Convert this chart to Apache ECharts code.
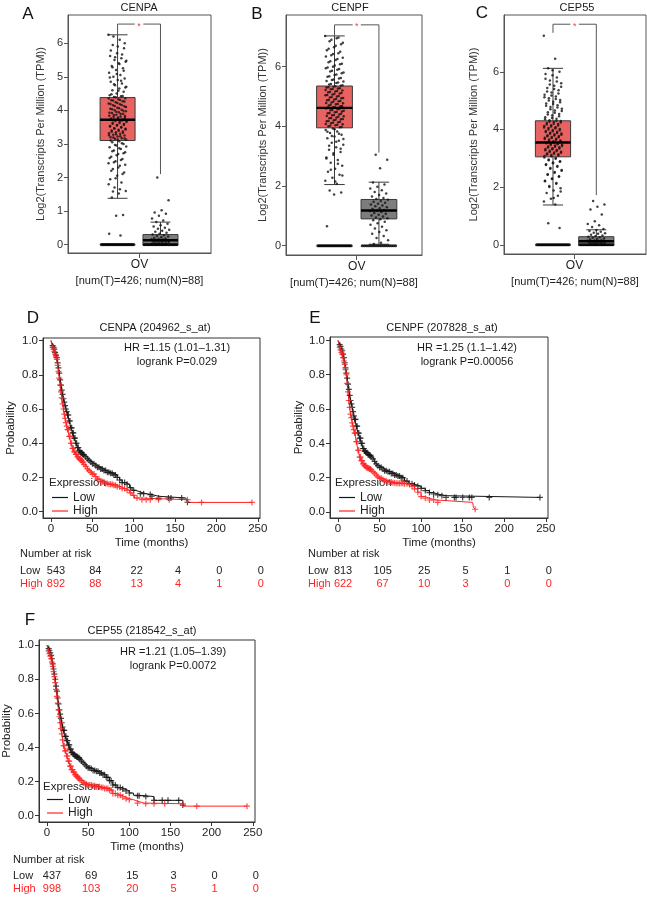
<!DOCTYPE html>
<html><head><meta charset="utf-8">
<script src="https://cdn.jsdelivr.net/npm/echarts@6/dist/echarts.min.js"></script>
<style>html,body{margin:0;padding:0;background:#fff}#c{width:647px;height:898px}</style>
</head><body><div id="c"></div>
<script>
const FONT = 'Liberation Sans, Arial, Helvetica, sans-serif';

// ---------------- Box plots (A–C) ----------------
const boxGenes = ['CENPA', 'CENPF', 'CEP55'];
const boxCategory = 'OV';
const boxSampleLabel = '[num(T)=426; num(N)=88]';
const boxYTitle = 'Log2(Transcripts Per Million (TPM))';
// stats: [lower whisker, Q1, median, Q3, upper whisker]
const statsA_T = [1.38, 3.10, 3.72, 4.38, 6.25];
const statsA_N = [0.00, -0.02, 0.13, 0.30, 0.67];
const statsB_T = [2.05, 3.95, 4.62, 5.35, 7.03];
const statsB_N = [0.05, 0.90, 1.18, 1.55, 2.13];
const statsC_T = [1.38, 3.05, 3.55, 4.30, 6.12];
const statsC_N = [0.00, -0.02, 0.12, 0.28, 0.52];
const ptsA_T = [6.25,6.1,5.95,5.85,5.7,5.62,5.55,5.5,5.45,5.4,5.32,5.25,5.2,5.12,5.05,5.0,4.95,4.9,4.85,4.8,4.75,4.7,4.65,4.6,4.55,4.5,4.45,4.42,4.4,4.36,4.33,4.3,4.27,4.24,4.2,4.18,4.15,4.12,4.08,4.05,4.02,4.0,3.97,3.94,3.92,3.9,3.87,3.84,3.82,3.8,3.77,3.75,3.72,3.7,3.68,3.65,3.62,3.6,3.57,3.55,3.52,3.5,3.47,3.45,3.42,3.4,3.37,3.35,3.32,3.3,3.27,3.25,3.22,3.2,3.17,3.15,3.12,3.08,3.05,3.0,2.95,2.9,2.85,2.8,2.75,2.7,2.62,2.55,2.48,2.42,2.35,2.25,2.15,2.05,1.95,1.85,1.7,1.6,1.52,1.4,0.88,0.86,0.32,0.27,
  6.2,6.0,5.9,5.78,5.66,5.58,5.48,5.38,5.28,5.18,5.08,4.98,4.88,4.78,4.68,4.58,4.48,4.43,4.39,4.35,4.31,4.29,4.26,4.22,4.19,4.16,4.13,4.1,4.06,4.03,3.99,3.96,3.93,3.89,3.86,3.83,3.79,3.76,3.73,3.71,3.69,3.66,3.63,3.59,3.56,3.53,3.49,3.46,3.43,3.39,3.36,3.33,3.29,3.26,3.23,3.19,3.16,3.13,3.1,3.02,2.97,2.92,2.87,2.78,2.72,2.66,2.58,2.52,2.45,2.38,2.3,2.2,2.1,1.98,1.8,1.65,1.58];
const ptsA_N = [2.0,1.32,1.02,0.96,0.92,0.86,0.78,0.72,0.67,0.62,0.58,0.54,0.5,0.47,0.44,0.41,0.38,0.35,0.32,0.3,0.28,0.26,0.24,0.22,0.2,0.18,0.17,0.16,0.15,0.14,0.13,0.12,0.11,0.1,0.09,0.08,0.07,0.06,0.05,0.04,0.03,0.02,0.01];
const ptsB_T = [7.03,6.95,6.85,6.75,6.65,6.55,6.45,6.38,6.3,6.22,6.15,6.08,6.0,5.95,5.9,5.84,5.78,5.72,5.66,5.6,5.55,5.5,5.45,5.4,5.36,5.33,5.3,5.27,5.24,5.2,5.17,5.14,5.1,5.07,5.04,5.0,4.97,4.94,4.9,4.87,4.84,4.8,4.77,4.74,4.7,4.67,4.64,4.6,4.57,4.54,4.5,4.47,4.44,4.4,4.37,4.34,4.3,4.27,4.24,4.2,4.17,4.14,4.1,4.07,4.04,4.0,3.97,3.93,3.88,3.83,3.78,3.72,3.66,3.6,3.52,3.45,3.38,3.3,3.22,3.14,3.05,2.96,2.87,2.78,2.68,2.58,2.48,2.38,2.28,2.18,2.08,1.85,1.78,1.72,0.65,
  6.98,6.9,6.8,6.7,6.6,6.5,6.42,6.34,6.26,6.18,6.1,6.04,5.97,5.92,5.86,5.8,5.74,5.68,5.62,5.57,5.52,5.47,5.42,5.38,5.34,5.31,5.28,5.25,5.22,5.18,5.15,5.12,5.08,5.05,5.02,4.98,4.95,4.92,4.88,4.85,4.82,4.78,4.75,4.72,4.68,4.65,4.62,4.58,4.55,4.52,4.48,4.45,4.42,4.38,4.35,4.32,4.28,4.25,4.22,4.18,4.15,4.12,4.08,4.05,4.02,3.98,3.9,3.82,3.75,3.68,3.58,3.48,3.35,3.25,3.1,2.92,2.75,2.55,2.35,2.15];
const ptsB_N = [3.05,2.88,2.6,2.12,2.05,1.98,1.92,1.86,1.8,1.75,1.7,1.65,1.6,1.57,1.54,1.5,1.47,1.44,1.41,1.38,1.35,1.32,1.29,1.26,1.23,1.2,1.18,1.16,1.13,1.1,1.07,1.04,1.01,0.98,0.95,0.92,0.89,0.85,0.8,0.75,0.7,0.64,0.58,0.52,0.46,0.4,0.33,0.26,0.18,0.1,0.06];
const ptsC_T = [7.25,6.45,6.12,6.0,5.88,5.76,5.66,5.56,5.48,5.4,5.32,5.25,5.18,5.12,5.06,5.0,4.94,4.88,4.82,4.76,4.7,4.64,4.58,4.52,4.46,4.4,4.35,4.3,4.27,4.24,4.2,4.17,4.14,4.1,4.07,4.04,4.0,3.97,3.94,3.91,3.88,3.85,3.82,3.79,3.76,3.73,3.7,3.67,3.64,3.61,3.58,3.55,3.52,3.49,3.46,3.43,3.4,3.37,3.34,3.31,3.28,3.25,3.22,3.19,3.16,3.13,3.1,3.07,3.03,2.98,2.93,2.88,2.83,2.77,2.71,2.64,2.57,2.5,2.43,2.36,2.28,2.2,2.12,2.04,1.96,1.88,1.8,1.7,1.6,1.5,1.4,0.75,0.58,
  6.05,5.92,5.8,5.7,5.6,5.52,5.44,5.36,5.28,5.2,5.14,5.08,5.02,4.96,4.9,4.84,4.78,4.72,4.66,4.6,4.54,4.48,4.42,4.37,4.32,4.29,4.26,4.22,4.19,4.15,4.12,4.08,4.05,4.02,3.98,3.95,3.92,3.89,3.86,3.83,3.8,3.77,3.74,3.71,3.68,3.65,3.62,3.59,3.56,3.53,3.5,3.47,3.44,3.41,3.38,3.35,3.32,3.29,3.26,3.23,3.2,3.17,3.14,3.11,3.08,3.01,2.96,2.9,2.85,2.79,2.73,2.66,2.59,2.52,2.45,2.38,2.3,2.22,2.14,2.0,1.85,1.62];
const ptsC_N = [1.52,1.4,1.32,1.22,1.05,0.82,0.72,0.68,0.62,0.55,0.51,0.48,0.45,0.42,0.4,0.38,0.35,0.32,0.3,0.28,0.26,0.24,0.22,0.2,0.18,0.16,0.15,0.14,0.13,0.12,0.11,0.1,0.09,0.08,0.07,0.06,0.05,0.04,0.03,0.02];
// number of samples at exactly 0 (tumour, normal)
const zerosA = [28, 20];
const zerosB = [28, 18];
const zerosC = [28, 20];
// significance bracket: [left end, top, right end]
const bracketA = [6.25, 6.57, 2.10];
const bracketB = [7.03, 7.40, 3.12];
const bracketC = [7.35, 7.65, 1.72];
const yTicksA = [0, 1, 2, 3, 4, 5, 6];
const yTicksB = [0, 2, 4, 6];
const yTicksC = [0, 2, 4, 6];

// ---------------- Kaplan–Meier (D–F) ----------------
const kmTitles = ['CENPA (204962_s_at)', 'CENPF (207828_s_at)', 'CEP55 (218542_s_at)'];
const kmHR = ['HR =1.15 (1.01\u20131.31)', 'HR =1.25 (1.1\u20131.42)', 'HR =1.21 (1.05\u20131.39)'];
const kmP = ['logrank P=0.029', 'logrank P=0.00056', 'logrank P=0.0072'];
const kmXTicks = [0, 50, 100, 150, 200, 250];
const kmYTicks = [0, 0.2, 0.4, 0.6, 0.8, 1.0];
const riskTimes = [0, 50, 100, 150, 200, 250];
const riskD_low = [543, 84, 22, 4, 0, 0];
const riskD_high = [892, 88, 13, 4, 1, 0];
const riskE_low = [813, 105, 25, 5, 1, 0];
const riskE_high = [622, 67, 10, 3, 0, 0];
const riskF_low = [437, 69, 15, 3, 0, 0];
const riskF_high = [998, 103, 20, 5, 1, 0];

const kmD_low = [[0,1.0],[1,0.98],[2,0.97],[3,0.96],[4,0.95],[5,0.93],[6,0.915],[7,0.90],[8,0.87],[9,0.84],[10,0.81],[11,0.77],[12,0.74],[13,0.71],[14,0.685],[15,0.66],[16,0.64],[17,0.62],[18,0.60],[19,0.585],[20,0.565],[22,0.53],[24,0.49],[26,0.46],[28,0.43],[30,0.40],[32,0.375],[34,0.355],[36,0.345],[38,0.335],[40,0.33],[42,0.32],[44,0.31],[46,0.30],[48,0.29],[50,0.28],[53,0.27],[56,0.26],[60,0.25],[64,0.24],[68,0.23],[72,0.225],[76,0.215],[80,0.20],[83,0.185],[86,0.17],[90,0.16],[95,0.14],[98,0.125],[102,0.115],[108,0.105],[115,0.10],[122,0.09],[130,0.08],[163,0.08],[165,0.055]];
const kmD_high = [[0,1.0],[1,0.975],[2,0.96],[3,0.95],[4,0.935],[5,0.92],[6,0.905],[7,0.89],[8,0.855],[9,0.82],[10,0.78],[11,0.74],[12,0.70],[13,0.665],[14,0.63],[15,0.60],[16,0.57],[17,0.545],[18,0.52],[19,0.50],[20,0.48],[22,0.44],[24,0.40],[26,0.37],[28,0.35],[30,0.335],[32,0.32],[34,0.31],[36,0.30],[38,0.29],[40,0.275],[42,0.265],[44,0.25],[46,0.24],[48,0.23],[50,0.22],[53,0.205],[56,0.19],[60,0.175],[65,0.165],[70,0.16],[75,0.155],[80,0.145],[85,0.135],[90,0.125],[95,0.11],[98,0.095],[101,0.08],[105,0.07],[165,0.07],[166,0.054],[243,0.054]];
const kmE_low = [[0,1.0],[1,0.985],[2,0.975],[3,0.965],[4,0.95],[5,0.94],[6,0.92],[7,0.90],[8,0.87],[9,0.84],[10,0.81],[11,0.78],[12,0.745],[13,0.715],[14,0.68],[15,0.65],[16,0.63],[17,0.61],[18,0.585],[19,0.56],[20,0.54],[22,0.50],[24,0.46],[26,0.43],[28,0.40],[30,0.37],[32,0.355],[34,0.345],[36,0.335],[38,0.33],[40,0.32],[42,0.31],[44,0.295],[46,0.28],[48,0.27],[50,0.26],[53,0.25],[56,0.24],[60,0.235],[64,0.225],[68,0.215],[72,0.21],[76,0.20],[80,0.18],[85,0.165],[90,0.157],[95,0.15],[100,0.138],[105,0.125],[110,0.113],[115,0.105],[120,0.10],[125,0.095],[130,0.085],[243,0.085]];
const kmE_high = [[0,1.0],[1,0.975],[2,0.96],[3,0.945],[4,0.93],[5,0.92],[6,0.90],[7,0.88],[8,0.86],[9,0.83],[10,0.80],[11,0.75],[12,0.70],[13,0.65],[14,0.61],[15,0.57],[16,0.55],[17,0.52],[18,0.50],[19,0.48],[20,0.46],[22,0.41],[24,0.36],[26,0.32],[28,0.30],[30,0.28],[32,0.27],[34,0.26],[36,0.255],[38,0.25],[40,0.245],[42,0.235],[44,0.225],[46,0.215],[48,0.205],[50,0.196],[53,0.19],[56,0.18],[60,0.175],[65,0.17],[70,0.167],[80,0.165],[85,0.16],[88,0.15],[92,0.135],[96,0.115],[100,0.09],[105,0.08],[110,0.07],[118,0.06],[120,0.056],[162,0.056],[163,0.027],[165,0.016]];
const kmF_low = [[0,1.0],[1,0.99],[2,0.98],[3,0.97],[4,0.955],[5,0.94],[6,0.92],[7,0.89],[8,0.86],[9,0.83],[10,0.80],[11,0.76],[12,0.73],[13,0.69],[14,0.655],[15,0.62],[16,0.595],[17,0.57],[18,0.545],[19,0.52],[20,0.50],[22,0.465],[24,0.44],[26,0.415],[28,0.39],[30,0.37],[32,0.36],[34,0.35],[36,0.345],[38,0.34],[40,0.33],[42,0.32],[44,0.31],[46,0.30],[48,0.29],[50,0.28],[53,0.275],[56,0.265],[60,0.26],[64,0.25],[68,0.24],[72,0.225],[76,0.205],[80,0.18],[85,0.165],[90,0.156],[95,0.145],[100,0.133],[105,0.12],[110,0.117],[120,0.112],[130,0.09],[162,0.09],[165,0.062]];
const kmF_high = [[0,1.0],[1,0.98],[2,0.965],[3,0.95],[4,0.935],[5,0.92],[6,0.90],[7,0.875],[8,0.845],[9,0.815],[10,0.78],[11,0.74],[12,0.70],[13,0.66],[14,0.62],[15,0.58],[16,0.545],[17,0.51],[18,0.48],[19,0.445],[20,0.41],[22,0.38],[24,0.35],[26,0.32],[28,0.29],[30,0.27],[32,0.255],[34,0.24],[36,0.23],[38,0.22],[40,0.21],[42,0.205],[44,0.195],[46,0.19],[48,0.185],[50,0.18],[55,0.175],[60,0.17],[65,0.165],[70,0.16],[75,0.15],[80,0.13],[85,0.12],[90,0.11],[95,0.10],[100,0.094],[105,0.085],[110,0.074],[118,0.07],[165,0.07],[166,0.056],[243,0.056]];

// censoring times
const censEarly = [2,3,4,5,6,7,8,9,10,11,12,13,14,15,16,17,18,19,20,21,22,23,24,25,26,27,28,29,30,31,32,33,34,35,36,37,38,39,40,42,44,46,48,50,52,54,56,58,60,62,64,66,68,70,72,74,76,78,80,83,86,89,92,96,100];
const censD_low = censEarly.concat([108,112,120,122,130,142,145,158,165]);
const censD_high = censEarly.concat([104,110,115,120,130,143,165,182,243]);
const censE_low = censEarly.concat([105,110,115,120,125,130,140,142,150,158,161,182,243]);
const censE_high = censEarly.concat([105,110,115,120,165]);
const censF_low = censEarly.concat([110,112,120,130,140,147,160,165]);
const censF_high = censEarly.concat([110,120,130,143,165,182,243]);

// ---------------- layout (style) ----------------
const boxPanels = [
  {letter:'A', gene:boxGenes[0], sT:statsA_T, sN:statsA_N, pT:ptsA_T, pN:ptsA_N, z:zerosA, br:bracketA, ticks:yTicksA,
   grid:{left:68, top:15, width:143, height:238}, yMin:-0.25, yMax:6.84, xT:1.04, xN:1.94, hw:0.367, mid:1.5, nameGap:22,
   letterPos:[28,14], titlePos:[139,8]},
  {letter:'B', gene:boxGenes[1], sT:statsB_T, sN:statsB_N, pT:ptsB_T, pN:ptsB_N, z:zerosB, br:bracketB, ticks:yTicksB,
   grid:{left:286, top:15, width:136, height:240}, yMin:-0.31, yMax:7.73, xT:1.07, xN:2.05, hw:0.395, mid:1.56, nameGap:18,
   letterPos:[257,14], titlePos:[350,8]},
  {letter:'C', gene:boxGenes[2], sT:statsC_T, sN:statsC_N, pT:ptsC_T, pN:ptsC_N, z:zerosC, br:bracketC, ticks:yTicksC,
   grid:{left:504, top:15, width:142, height:239}, yMin:-0.32, yMax:7.97, xT:1.035, xN:1.95, hw:0.372, mid:1.49, nameGap:25,
   letterPos:[482,13], titlePos:[577,8]}
];
const kmPanels = [
  {letter:'D', low:kmD_low, high:kmD_high, cl:censD_low, ch:censD_high, rl:riskD_low, rh:riskD_high,
   grid:{left:43, top:338, width:217, height:180}, yMin:-0.037, yMax:1.015, nameGap:26,
   letterPos:[33,318], titlePos:[155,328], hrPos:[177,348], legend:[52,491.5], exprPos:[49,483], tablePos:[20,554], rows:[571,584]},
  {letter:'E', low:kmE_low, high:kmE_high, cl:censE_low, ch:censE_high, rl:riskE_low, rh:riskE_high,
   grid:{left:330, top:337, width:218, height:181}, yMin:-0.035, yMax:1.02, nameGap:25,
   letterPos:[315,318], titlePos:[442,328], hrPos:[467,348], legend:[339,491.5], exprPos:[335,483], tablePos:[308,554], rows:[571,584]},
  {letter:'F', low:kmF_low, high:kmF_high, cl:censF_low, ch:censF_high, rl:riskF_low, rh:riskF_high,
   grid:{left:38, top:640, width:217, height:182}, yMin:-0.037, yMax:1.03, nameGap:26,
   letterPos:[30,620], titlePos:[142,631], hrPos:[173,652], legend:[47,793.5], exprPos:[43,787], tablePos:[13,860], rows:[876,889]}
];
const BLACK = '#161616', RED = '#ff2424';
const TUMOR_FILL = '#e86262', NORMAL_FILL = '#7d7d7d', BOX_STROKE = '#3a3a3a';

function jit(i) { return ((i * 0.6180339887) % 1) - 0.5; }
function survAt(curve, t) { let v = curve[0][1]; for (const [ct, cv] of curve) { if (ct <= t) v = cv; else break; } return v; }

function renderBox(params, api) {
  const xc = api.value(0), hw = api.value(1), lo = api.value(2), q1 = api.value(3), q3 = api.value(5), hi = api.value(6);
  const cw = hw * 0.57;
  const c = (x, y) => api.coord([x, y]);
  const ln = (a, b) => ({type:'line', shape:{x1:a[0], y1:a[1], x2:b[0], y2:b[1]}, style:{stroke:BOX_STROKE, lineWidth:1}});
  const tl = c(xc - hw, q3), br = c(xc + hw, q1);
  return {type:'group', children:[
    ln(c(xc, q3), c(xc, hi)), ln(c(xc, q1), c(xc, lo)),
    ln(c(xc - cw, hi), c(xc + cw, hi)), ln(c(xc - cw, lo), c(xc + cw, lo)),
    {type:'rect', shape:{x:tl[0], y:tl[1], width:br[0]-tl[0], height:br[1]-tl[1]}, style:{fill:api.visual('color'), stroke:BOX_STROKE, lineWidth:1}}
  ]};
}
function renderMedian(params, api) {
  const xc = api.value(0), hw = api.value(1), md = api.value(4);
  const a = api.coord([xc - hw, md]), b = api.coord([xc + hw, md]);
  return {type:'line', shape:{x1:a[0], y1:a[1], x2:b[0], y2:b[1]}, style:{stroke:'#000', lineWidth:2.4}};
}
function renderBracket(params, api) {
  const xl = api.value(0), yl = api.value(1), yt = api.value(2), xr = api.value(3), yr = api.value(4), gap = api.value(5);
  const xm = (xl + xr) / 2;
  const c = (x, y) => api.coord([x, y]);
  const st = {stroke:'#555', lineWidth:1, fill:null};
  const s = c(xm, yt);
  return {type:'group', children:[
    {type:'polyline', shape:{points:[c(xl, yl), c(xl, yt), c(xm - gap, yt)]}, style:st},
    {type:'polyline', shape:{points:[c(xm + gap, yt), c(xr, yt), c(xr, yr)]}, style:st},
    {type:'text', x:s[0], y:s[1] + 2, style:{text:'*', fill:'#ff3a3a', fontSize:9, fontFamily:FONT, align:'center', verticalAlign:'middle'}}
  ]};
}

const grids = [], xAxes = [], yAxes = [], series = [], legends = [], texts = [];
const txt = (s, x, y, opt) => texts.push(Object.assign({type:'text', x, y, style:Object.assign({text:s, fill:'#1a1a1a', fontSize:11, fontFamily:FONT, align:'center', verticalAlign:'middle'}, opt || {})}));

boxPanels.forEach((p, k) => {
  grids.push(Object.assign({show:true, borderColor:'#555', borderWidth:1, backgroundColor:'transparent'}, p.grid));
  xAxes.push({gridIndex:k, type:'value', min:0, max:3, splitLine:{show:false},
    axisLine:{show:true, onZero:false, lineStyle:{color:'#555'}},
    axisTick:{show:true, length:5, customValues:[p.mid], lineStyle:{color:'#555'}},
    axisLabel:{show:true, customValues:[p.mid], formatter:() => boxCategory, margin:6, fontSize:12, color:'#222', fontFamily:FONT},
    name:boxSampleLabel, nameLocation:'middle', nameGap:22, nameTextStyle:{fontSize:11, color:'#222', fontFamily:FONT}});
  yAxes.push({gridIndex:k, type:'value', min:p.yMin, max:p.yMax, splitLine:{show:false},
    axisLine:{show:true, onZero:false, lineStyle:{color:'#555'}},
    axisTick:{show:true, length:4, customValues:p.ticks, lineStyle:{color:'#555'}},
    axisLabel:{show:true, customValues:p.ticks, margin:5, fontSize:11, color:'#333', fontFamily:FONT},
    name:boxYTitle, nameLocation:'middle', nameGap:p.nameGap, nameTextStyle:{fontSize:11, color:'#333', fontFamily:FONT}});
  const common = {xAxisIndex:k, yAxisIndex:k, silent:true, animation:false};
  const boxT = [p.xT, p.hw].concat(p.sT), boxN = [p.xN, p.hw].concat(p.sN);
  series.push(Object.assign({type:'custom', renderItem:renderBox, itemStyle:{color:TUMOR_FILL}, data:[boxT], encode:{x:0, y:[2,6]}, z:1}, common));
  series.push(Object.assign({type:'custom', renderItem:renderBox, itemStyle:{color:NORMAL_FILL}, data:[boxN], encode:{x:0, y:[2,6]}, z:1}, common));
  const jw = p.hw * 0.52;
  series.push(Object.assign({type:'scatter', symbolSize:2.5, itemStyle:{color:'#111'}, z:2,
    data:p.pT.map((v, i) => [p.xT + jit(i) * 2 * jw, v]).concat(p.pN.map((v, i) => [p.xN + jit(i + 7) * 2 * jw, v]))}, common));
  const zeroPts = [];
  [[p.xT, p.z[0]], [p.xN, p.z[1]]].forEach(([xc, n]) => {
    for (let i = 0; i < n; i++) zeroPts.push([xc - p.hw * 0.93 + 2 * p.hw * 0.93 * i / (n - 1), 0]);
  });
  series.push(Object.assign({type:'scatter', symbolSize:3.2, itemStyle:{color:'#000'}, z:2, data:zeroPts}, common));
  series.push(Object.assign({type:'custom', renderItem:renderMedian, data:[boxT, boxN], encode:{x:0, y:4}, z:3}, common));
  series.push(Object.assign({type:'custom', renderItem:renderBracket, data:[[p.xT, p.br[0], p.br[1], p.xN, p.br[2], 0.09]], encode:{x:[0,3], y:[1,2]}, z:3}, common));
  txt(p.letter, p.letterPos[0], p.letterPos[1], {fontSize:17, fill:'#111'});
  txt(p.gene, p.titlePos[0], p.titlePos[1], {fontSize:11});
});

const crossPath = 'path://M4,0 H6 V4 H10 V6 H6 V10 H4 V6 H0 V4 H4 Z';
kmPanels.forEach((p, j) => {
  const k = j + 3;
  grids.push(Object.assign({show:true, borderColor:'#333', borderWidth:1, backgroundColor:'transparent'}, p.grid));
  xAxes.push({gridIndex:k, type:'value', min:-9.7, max:252.7, splitLine:{show:false},
    axisLine:{show:true, onZero:false, lineStyle:{color:'#333'}},
    axisTick:{show:true, length:4, customValues:kmXTicks, lineStyle:{color:'#333'}},
    axisLabel:{show:true, customValues:kmXTicks, margin:5, fontSize:11.5, color:'#222', fontFamily:FONT},
    name:'Time (months)', nameLocation:'middle', nameGap:19, nameTextStyle:{fontSize:11.5, color:'#222', fontFamily:FONT}});
  yAxes.push({gridIndex:k, type:'value', min:p.yMin, max:p.yMax, splitLine:{show:false},
    axisLine:{show:true, onZero:false, lineStyle:{color:'#333'}},
    axisTick:{show:true, length:4, customValues:kmYTicks, lineStyle:{color:'#333'}},
    axisLabel:{show:true, customValues:kmYTicks, formatter:v => v.toFixed(1), margin:5, fontSize:11.5, color:'#222', fontFamily:FONT},
    name:'Probability', nameLocation:'middle', nameGap:p.nameGap, nameTextStyle:{fontSize:11.5, color:'#222', fontFamily:FONT}});
  const common = {xAxisIndex:k, yAxisIndex:k, animation:false};
  [['Low', p.low, p.cl, BLACK], ['High', p.high, p.ch, RED]].forEach(([nm, curve, cens, col]) => {
    series.push(Object.assign({type:'line', name:nm, step:'end', data:curve, symbol:'none', color:col,
      lineStyle:{color:col, width:1}, z:2, silent:true}, common));
    series.push(Object.assign({type:'scatter', name:'censor-' + nm, symbol:crossPath, symbolSize:6, color:col,
      itemStyle:{color:col}, z:3, silent:true, data:cens.map(t => [t, survAt(curve, t)])}, common));
  });
  legends.push({left:p.legend[0], top:p.legend[1], orient:'vertical', data:['Low', 'High'], icon:'rect',
    itemWidth:16, itemHeight:1.2, itemGap:1.5, padding:0, selectedMode:false,
    textStyle:{fontSize:12, lineHeight:12, color:'#222', fontFamily:FONT}});
  txt(p.letter, p.letterPos[0], p.letterPos[1], {fontSize:17, fill:'#111'});
  txt(kmTitles[j], p.titlePos[0], p.titlePos[1], {fontSize:11});
  txt(kmHR[j], p.hrPos[0], p.hrPos[1], {fontSize:11});
  txt(kmP[j], p.hrPos[0], p.hrPos[1] + 14, {fontSize:11});
  txt('Expression', p.exprPos[0], p.exprPos[1], {fontSize:11.5, align:'left', fill:'#222'});
  txt('Number at risk', p.tablePos[0], p.tablePos[1], {fontSize:11, align:'left', fill:'#222'});
  txt('Low', p.tablePos[0], p.rows[0], {fontSize:11, align:'left', fill:'#222'});
  txt('High', p.tablePos[0], p.rows[1], {fontSize:11, align:'left', fill:RED});
});

const chart = echarts.init(document.getElementById('c'));
chart.setOption({animation:false, backgroundColor:'#fff', grid:grids, xAxis:xAxes, yAxis:yAxes, series, legend:legends});

kmPanels.forEach((p, j) => {
  const k = j + 3;
  riskTimes.forEach((t, i) => {
    const px = chart.convertToPixel({xAxisIndex:k}, t) + (i === 0 ? 5 : 3);
    txt(String(p.rl[i]), px, p.rows[0], {fontSize:11, fill:'#222'});
    txt(String(p.rh[i]), px, p.rows[1], {fontSize:11, fill:RED});
  });
});
chart.setOption({graphic:texts});
</script></body></html>
